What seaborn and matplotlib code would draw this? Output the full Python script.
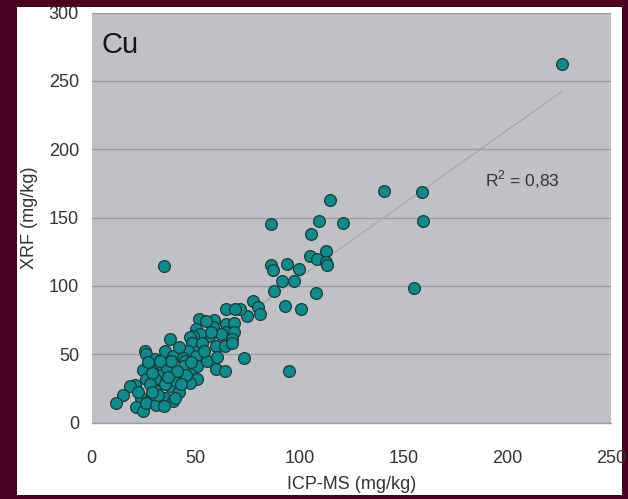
import matplotlib
matplotlib.use("Agg")
import matplotlib.pyplot as plt
import seaborn as sns
import numpy as np
import pandas as pd
from matplotlib.patches import Rectangle

# ICP-MS (x) and XRF (y) values, mg/kg
icp_ms = [226.5, 141.0, 159.0, 159.5, 155.0,
          115.0, 86.5, 109.5, 121.0, 105.5, 113.0, 105.3, 108.3, 113.0, 113.5,
          86.5, 87.3, 94.3, 99.7, 91.5, 97.5, 87.7, 108.0, 77.8, 80.2, 93.0,
          100.8, 74.8, 81.0, 71.3, 95.2, 34.9,
          64.9, 69.0, 51.6, 58.8, 64.7, 68.6, 58.4, 50.5, 64.5, 68.4, 56.5,
          62.4, 67.7, 60.1, 64.2, 67.7, 73.5, 59.8, 64.1, 55.3, 52.1, 48.9,
          47.3, 48.6, 51.3, 46.5, 50.2, 37.6, 35.5, 39.3, 44.0, 44.8, 44.3,
          50.7, 47.3, 50.9, 47.3, 40.0, 37.6, 40.8, 45.6,
          25.6, 26.4, 30.4, 33.6, 28.0, 24.7, 33.6, 30.4, 20.8, 18.4, 26.4,
          24.0, 28.0, 35.2, 39.2, 30.4, 15.2, 12.0, 21.6, 24.7, 26.4, 31.2,
          36.3, 41.3, 29.2, 35.3, 42.3, 22.2, 32.2, 38.3, 55.4, 53.4, 42.3,
          28.2, 40.3, 60.4, 57.4,
          33.0, 37.0, 43.0, 48.0, 54.0, 29.0, 35.0, 27.0]
xrf = [262.0, 169.5, 169.0, 147.7, 98.6,
       162.5, 145.0, 147.3, 146.3, 138.2, 125.5, 121.6, 119.6, 117.4, 115.0,
       115.0, 111.4, 116.2, 112.6, 103.5, 103.5, 96.0, 95.0, 88.7, 84.3, 85.5,
       83.0, 78.2, 79.4, 83.0, 37.6, 114.2,
       83.0, 83.0, 75.7, 75.0, 72.0, 72.6, 70.0, 68.4, 65.9, 65.9, 63.0,
       64.7, 61.0, 56.0, 56.0, 58.5, 47.4, 38.9, 37.6, 74.5, 64.7, 63.4,
       62.2, 58.5, 52.4, 52.4, 48.7, 61.0, 52.4, 48.3, 47.4, 45.0, 41.3,
       41.3, 35.6, 31.5, 29.0, 31.0, 26.5, 30.2, 35.1,
       52.4, 49.9, 46.2, 42.5, 40.0, 38.1, 35.1, 31.5, 27.8, 26.5, 31.5,
       17.9, 16.7, 17.9, 15.5, 24.1, 20.4, 14.2, 11.1, 8.6, 14.2, 13.0,
       40.0, 38.0, 36.0, 28.0, 22.0, 22.0, 20.0, 45.0, 45.0, 58.0, 55.0,
       28.0, 18.0, 48.0, 66.0,
       45.0, 33.0, 28.0, 44.0, 52.0, 22.0, 12.0, 44.0]

x_ticks = [0, 50, 100, 150, 200, 250]
y_ticks = [0, 50, 100, 150, 200, 250, 300]
x_label = "ICP-MS (mg/kg)"
y_label = "XRF (mg/kg)"
panel_title = "Cu"
r2_text = "R$^2$ = 0,83"

df = pd.DataFrame({"icp": icp_ms, "xrf": xrf})

sns.set_style("white")
plt.rcParams["font.family"] = ["Liberation Sans", "DejaVu Sans"]
plt.rcParams["mathtext.fontset"] = "custom"
plt.rcParams["mathtext.rm"] = "Liberation Sans"

W, H = 628, 499
fig = plt.figure(figsize=(W / 100, H / 100), dpi=100)
fig.patch.set_facecolor("#4a0020")
bg = Rectangle((16.7 / W, (H - 495) / H), (622 - 16.7) / W, (495 - 7) / H,
               transform=fig.transFigure, facecolor="white",
               edgecolor="none", zorder=-5)
fig.patches.append(bg)

ax = fig.add_axes([91.5 / W, (H - 422.5) / H, (611 - 91.5) / W, (422.5 - 12.5) / H])
ax.set_zorder(1)
ax.set_facecolor("#c0c1c5")

sns.regplot(data=df, x="icp", y="xrf", scatter=False, ci=None, ax=ax,
            line_kws=dict(color="#a6a7aa", lw=0.9, zorder=2))
sns.scatterplot(data=df, x="icp", y="xrf", ax=ax, s=72, color="#12898b",
                edgecolor="#163c3c", linewidth=0.9, zorder=3, legend=False)

ax.set_xlim(0, 250)
ax.set_ylim(0, 300)
ax.set_xticks(x_ticks)
ax.set_yticks(y_ticks)
ax.yaxis.grid(True, color="#9c9da0", lw=1.0, zorder=1)
ax.xaxis.grid(False)
ax.set_axisbelow(True)
for s in ["top", "right", "left"]:
    ax.spines[s].set_visible(False)
ax.spines["bottom"].set_color("#9c9da0")
ax.spines["bottom"].set_linewidth(1.0)

ax.tick_params(axis="both", which="both", direction="out", length=6, width=0.8,
               color="#a0a0a0", labelsize=13, labelcolor="#333333")
ax.tick_params(axis="x", pad=14)
ax.tick_params(axis="y", pad=3)

ax.set_xlabel(x_label, fontsize=13, color="#333333", labelpad=6)
ax.set_ylabel(y_label, fontsize=13, color="#333333", labelpad=8)

ax.text(0.02, 0.92, panel_title, transform=ax.transAxes, fontsize=21,
        color="#151515", va="center", ha="left")
ax.text(0.757, 0.592, r2_text, transform=ax.transAxes, fontsize=12.5,
        color="#333333", va="center", ha="left")

fig.savefig("out.png", dpi=100, facecolor=fig.get_facecolor())
